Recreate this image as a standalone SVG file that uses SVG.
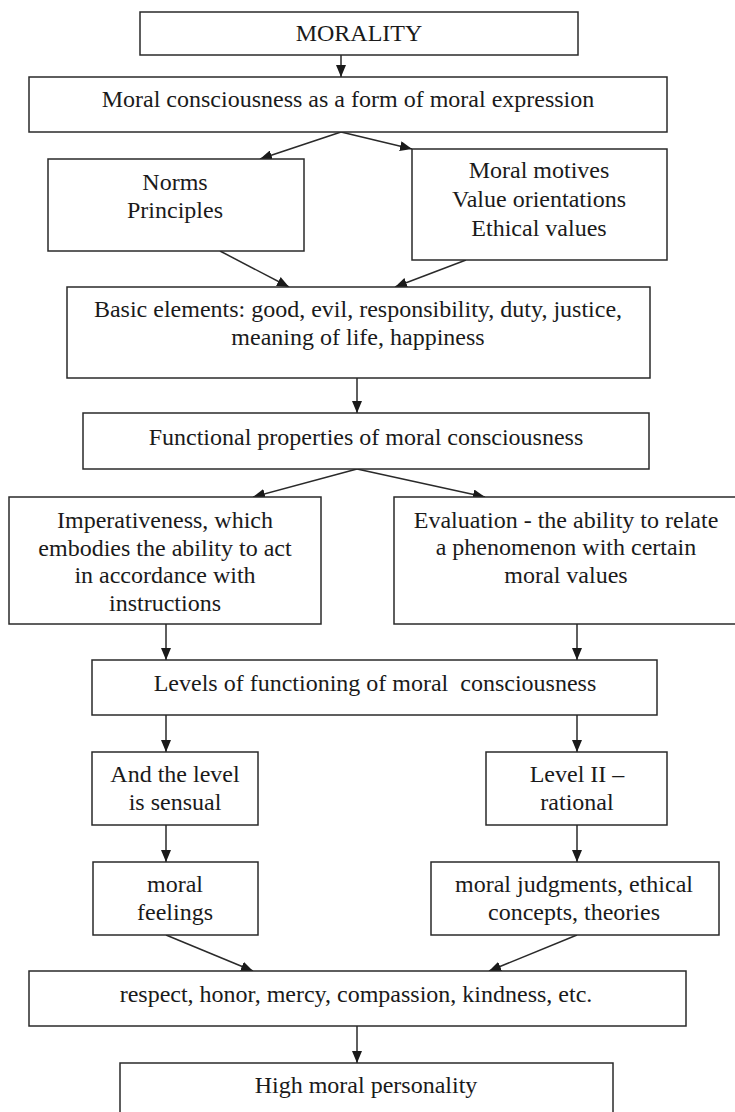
<svg xmlns="http://www.w3.org/2000/svg" width="735" height="1112" viewBox="0 0 735 1112">
<style>
.box{fill:#fff;stroke:#2a2a2a;stroke-width:1.5}
.t{font-family:"Liberation Serif","Times New Roman",serif;font-size:24px;fill:#1a1a1a;text-anchor:middle}
.c{stroke:#2a2a2a;stroke-width:1.5;fill:none;marker-end:url(#ah)}
</style>
<defs>
<marker id="ah" viewBox="0 0 12 10" refX="12" refY="5" markerWidth="12" markerHeight="10" markerUnits="userSpaceOnUse" orient="auto">
<path d="M0,0 L12,5 L0,10 z" fill="#1a1a1a"/>
</marker>
</defs>
<rect width="735" height="1112" fill="#fff"/>
<g id="connectors">
<line class="c" x1="341" y1="55" x2="341" y2="77"/>
<line class="c" x1="341" y1="132" x2="260" y2="159"/>
<line class="c" x1="341" y1="132" x2="412" y2="149"/>
<line class="c" x1="220" y1="251" x2="289" y2="287"/>
<line class="c" x1="466" y1="260" x2="395" y2="287"/>
<line class="c" x1="357" y1="378" x2="357" y2="413"/>
<line class="c" x1="357" y1="469" x2="253" y2="497"/>
<line class="c" x1="357" y1="469" x2="485" y2="497"/>
<line class="c" x1="166" y1="624" x2="166" y2="660"/>
<line class="c" x1="577" y1="624" x2="577" y2="660"/>
<line class="c" x1="166" y1="715" x2="166" y2="752"/>
<line class="c" x1="577" y1="715" x2="577" y2="752"/>
<line class="c" x1="166" y1="825" x2="166" y2="862"/>
<line class="c" x1="577" y1="825" x2="577" y2="862"/>
<line class="c" x1="166" y1="935" x2="253" y2="971"/>
<line class="c" x1="577" y1="935" x2="489" y2="971"/>
<line class="c" x1="357" y1="1026" x2="357" y2="1063"/>
</g>
<g id="morality">
<rect class="box" x="140" y="12" width="438" height="43"/>
<text class="t" x="359" y="41">MORALITY</text>
</g>
<g id="consciousness">
<rect class="box" x="29" y="77" width="638" height="55"/>
<text class="t" x="348" y="107">Moral consciousness as a form of moral expression</text>
</g>
<g id="norms">
<rect class="box" x="48" y="159" width="256" height="92"/>
<text class="t" x="175" y="190">Norms</text>
<text class="t" x="175" y="218">Principles</text>
</g>
<g id="motives">
<rect class="box" x="412" y="149" width="255" height="111"/>
<text class="t" x="539" y="178">Moral motives</text>
<text class="t" x="539" y="207">Value orientations</text>
<text class="t" x="539" y="236">Ethical values</text>
</g>
<g id="basic">
<rect class="box" x="67" y="287" width="583" height="91"/>
<text class="t" x="358" y="317">Basic elements: good, evil, responsibility, duty, justice,</text>
<text class="t" x="358" y="345">meaning of life, happiness</text>
</g>
<g id="functional">
<rect class="box" x="83" y="413" width="566" height="56"/>
<text class="t" x="366" y="445">Functional properties of moral consciousness</text>
</g>
<g id="imperativeness">
<rect class="box" x="9" y="497" width="312" height="127"/>
<text class="t" x="165" y="528">Imperativeness, which</text>
<text class="t" x="165" y="556">embodies the ability to act</text>
<text class="t" x="165" y="583">in accordance with</text>
<text class="t" x="165" y="611">instructions</text>
</g>
<g id="evaluation">
<rect class="box" x="394" y="497" width="350" height="127"/>
<text class="t" x="566" y="528">Evaluation - the ability to relate</text>
<text class="t" x="566" y="555">a phenomenon with certain</text>
<text class="t" x="566" y="583">moral values</text>
</g>
<g id="levels">
<rect class="box" x="92" y="660" width="565" height="55"/>
<text class="t" x="375" y="691" xml:space="preserve">Levels of functioning of moral  consciousness</text>
</g>
<g id="sensual">
<rect class="box" x="92" y="752" width="166" height="73"/>
<text class="t" x="175" y="782">And the level</text>
<text class="t" x="175" y="810">is sensual</text>
</g>
<g id="rational">
<rect class="box" x="486" y="752" width="181" height="73"/>
<text class="t" x="577" y="782">Level II –</text>
<text class="t" x="577" y="810">rational</text>
</g>
<g id="feelings">
<rect class="box" x="93" y="862" width="165" height="73"/>
<text class="t" x="175" y="892">moral</text>
<text class="t" x="175" y="920">feelings</text>
</g>
<g id="judgments">
<rect class="box" x="431" y="862" width="288" height="73"/>
<text class="t" x="574" y="892">moral judgments, ethical</text>
<text class="t" x="574" y="920">concepts, theories</text>
</g>
<g id="respect">
<rect class="box" x="29" y="971" width="657" height="55"/>
<text class="t" x="356" y="1002">respect, honor, mercy, compassion, kindness, etc.</text>
</g>
<g id="personality">
<rect class="box" x="120" y="1063" width="493" height="60"/>
<text class="t" x="366" y="1093">High moral personality</text>
</g>
</svg>
